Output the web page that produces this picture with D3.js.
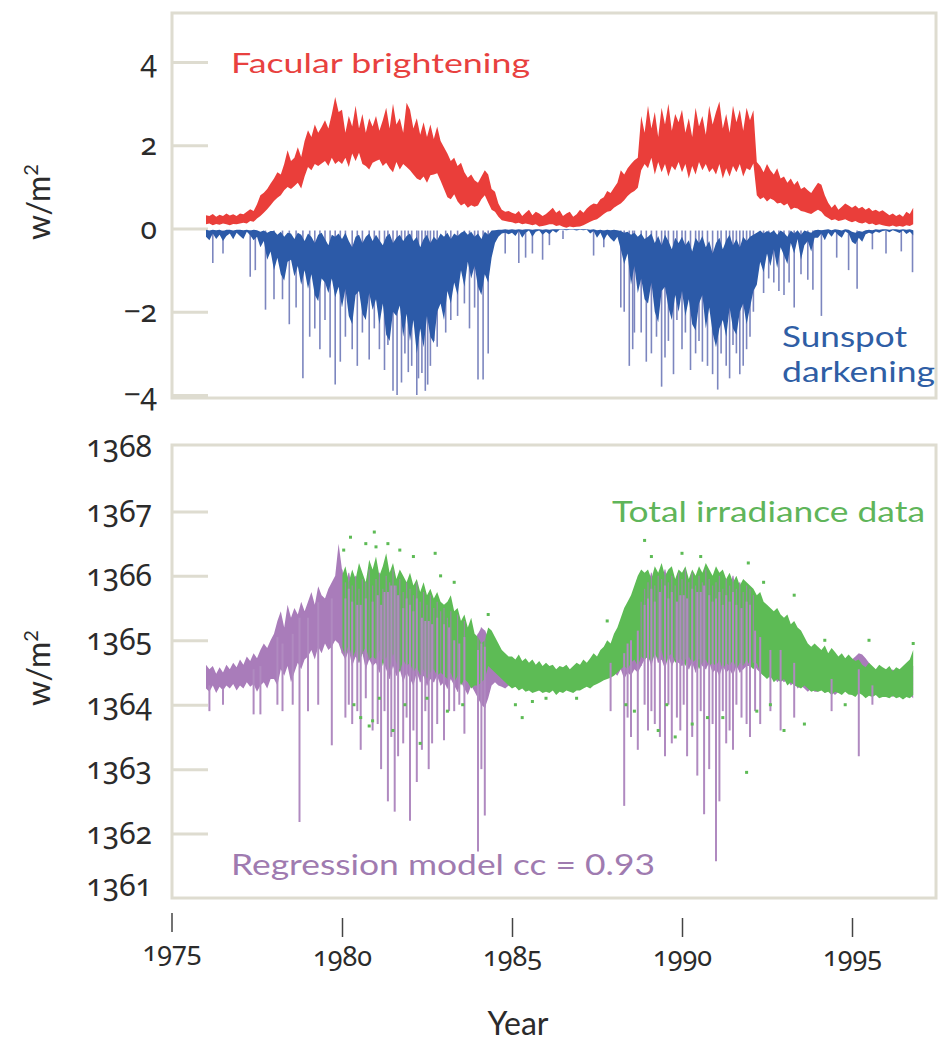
<!DOCTYPE html>
<html>
<head>
<meta charset="utf-8">
<script src="https://cdn.jsdelivr.net/npm/d3@7"></script>
<style>
  html, body { margin: 0; padding: 0; background: #fff; }
  svg { display: block; font-family: Lato, "Open Sans", sans-serif; }
  .num text { font-family: "Noto Sans", "Open Sans", sans-serif; font-variant-numeric: oldstyle-nums; font-feature-settings: "onum" 1; }
</style>
</head>
<body>
<svg id="chart" width="939" height="1044"></svg>
<script>
// ---- Top panel: facular brightening and sunspot darkening (W/m^2), sampled every 0.1 yr from 1976.0 ----
const facularHigh = [
  0.32,0.30,0.35,0.28,0.33,0.30,0.36,0.31,0.34,0.30,
  0.36,0.34,0.40,0.46,0.42,0.58,0.80,0.86,0.95,1.08,
  1.20,1.35,1.30,1.55,1.88,1.62,1.70,1.95,1.72,2.10,
  2.36,2.20,2.50,2.30,2.44,2.60,2.40,2.75,3.16,2.80,
  2.85,2.30,2.70,2.45,2.95,2.40,2.75,2.30,2.65,2.45,
  2.70,2.35,2.60,2.90,2.40,3.00,2.50,2.65,2.30,3.02,
  2.85,2.40,2.65,2.25,2.55,2.20,2.50,2.15,2.45,2.10,
  1.95,1.80,1.62,1.70,1.50,1.58,1.35,1.22,1.30,1.16,
  1.10,1.25,1.40,1.30,0.95,0.88,0.60,0.45,0.40,0.42,
  0.38,0.35,0.42,0.30,0.38,0.45,0.32,0.40,0.36,0.30,
  0.35,0.42,0.50,0.38,0.44,0.30,0.36,0.40,0.28,0.34,
  0.45,0.38,0.48,0.55,0.60,0.58,0.70,0.75,0.90,0.85,
  0.98,1.10,1.40,1.30,1.45,1.55,1.64,1.70,2.70,2.30,
  2.95,2.40,2.80,2.20,2.90,2.50,3.00,2.35,2.75,2.55,
  2.85,2.30,2.65,2.20,2.90,2.45,2.70,2.25,2.95,2.50,
  2.80,3.05,2.40,2.75,2.30,2.95,2.55,2.85,2.35,2.90,
  2.60,2.84,1.60,1.50,1.35,1.55,1.40,1.30,1.45,1.20,
  1.25,1.10,1.20,1.05,1.15,0.95,1.00,0.92,0.85,0.98,
  1.10,1.05,0.80,0.62,0.50,0.58,0.45,0.52,0.60,0.55,
  0.50,0.55,0.48,0.52,0.45,0.50,0.42,0.45,0.40,0.44,
  0.38,0.32,0.36,0.30,0.34,0.28,0.40,0.35,0.50
];
const facularLow = [
  0.10,0.12,0.08,0.11,0.09,0.12,0.10,0.08,0.11,0.10,
  0.12,0.14,0.12,0.18,0.16,0.24,0.30,0.38,0.46,0.56,
  0.66,0.74,0.80,0.92,1.00,0.95,1.02,1.10,0.96,1.25,
  1.48,1.40,1.55,1.50,1.56,1.62,1.50,1.70,1.55,1.62,
  1.55,1.70,1.48,1.80,1.62,1.82,1.55,1.50,1.42,1.58,
  1.62,1.66,1.50,1.58,1.45,1.35,1.60,1.42,1.55,1.48,
  1.40,1.30,1.20,1.16,1.25,1.10,1.28,1.30,1.33,1.15,
  0.95,0.75,0.70,0.82,0.65,0.55,0.60,0.50,0.56,0.52,
  0.55,0.70,0.80,0.62,0.45,0.40,0.28,0.20,0.18,0.16,
  0.15,0.12,0.14,0.10,0.12,0.10,0.08,0.10,0.05,0.06,
  0.08,0.10,0.10,0.06,0.08,0.04,0.02,0.05,0.03,0.04,
  0.05,0.08,0.12,0.16,0.20,0.22,0.28,0.35,0.40,0.42,
  0.50,0.55,0.60,0.68,0.78,0.85,0.90,0.98,1.40,1.55,
  1.45,1.70,1.30,1.60,1.35,1.55,1.25,1.50,1.40,1.60,
  1.35,1.55,1.20,1.50,1.30,1.60,1.40,1.55,1.35,1.45,
  1.30,1.55,1.20,1.45,1.25,1.50,1.35,1.55,1.25,1.45,
  1.40,1.56,0.80,0.70,0.75,0.65,0.72,0.68,0.60,0.62,
  0.55,0.60,0.45,0.50,0.48,0.42,0.40,0.37,0.35,0.40,
  0.45,0.40,0.30,0.25,0.20,0.22,0.18,0.20,0.22,0.18,
  0.15,0.18,0.14,0.12,0.15,0.10,0.12,0.08,0.10,0.08,
  0.06,0.05,0.07,0.04,0.06,0.04,0.08,0.06,0.10
];
// upper and lower edges of the dense sunspot-darkening band
const sunspotUpper = [
  -0.03,-0.05,-0.03,-0.04,-0.03,-0.06,-0.03,-0.03,-0.05,-0.03,
  -0.03,-0.04,-0.03,-0.05,-0.03,-0.04,-0.08,-0.05,-0.10,-0.06,
  -0.06,-0.15,-0.08,-0.20,-0.10,-0.12,-0.25,-0.10,-0.15,-0.30,
  -0.12,-0.20,-0.35,-0.15,-0.10,-0.25,-0.40,-0.15,-0.20,-0.12,
  -0.25,-0.10,-0.30,-0.45,-0.20,-0.15,-0.35,-0.20,-0.12,-0.30,
  -0.15,-0.28,-0.40,-0.20,-0.12,-0.35,-0.22,-0.15,-0.30,-0.18,
  -0.12,-0.30,-0.20,-0.45,-0.25,-0.15,-0.35,-0.20,-0.28,-0.12,
  -0.20,-0.10,-0.25,-0.12,-0.18,-0.10,-0.06,-0.15,-0.08,-0.20,
  -0.12,-0.25,-0.08,-0.15,-0.05,-0.04,-0.03,-0.03,-0.02,-0.03,
  -0.02,-0.03,-0.02,-0.03,-0.02,-0.02,-0.03,-0.02,-0.02,-0.03,
  -0.02,-0.03,-0.02,-0.02,-0.02,-0.02,-0.02,-0.02,-0.02,-0.02,
  -0.02,-0.02,-0.02,-0.03,-0.02,-0.04,-0.03,-0.05,-0.03,-0.04,
  -0.03,-0.04,-0.06,-0.10,-0.08,-0.15,-0.10,-0.20,-0.12,-0.25,
  -0.20,-0.12,-0.35,-0.18,-0.40,-0.15,-0.30,-0.50,-0.22,-0.35,
  -0.20,-0.40,-0.28,-0.55,-0.22,-0.35,-0.18,-0.45,-0.30,-0.60,
  -0.35,-0.22,-0.50,-0.28,-0.15,-0.40,-0.25,-0.45,-0.20,-0.30,
  -0.20,-0.15,-0.10,-0.05,-0.12,-0.06,-0.10,-0.05,-0.15,-0.05,
  -0.10,-0.20,-0.05,-0.12,-0.04,-0.15,-0.05,-0.08,-0.10,-0.04,
  -0.03,-0.04,-0.03,-0.02,-0.04,-0.02,-0.03,-0.05,-0.02,-0.03,
  -0.08,-0.10,-0.06,-0.08,-0.04,-0.03,-0.04,-0.02,-0.03,-0.02,
  -0.02,-0.03,-0.02,-0.02,-0.03,-0.02,-0.03,-0.02,-0.04
];
const sunspotLower = [
  -0.20,-0.28,-0.12,-0.25,-0.15,-0.30,-0.18,-0.12,-0.26,-0.10,
  -0.18,-0.25,-0.08,-0.16,-0.28,-0.20,-0.45,-0.30,-0.75,-0.55,
  -1.00,-0.70,-1.10,-1.25,-0.80,-0.75,-1.15,-0.90,-1.35,-1.00,
  -1.45,-1.10,-1.60,-1.75,-1.20,-1.30,-1.55,-1.20,-1.65,-1.40,
  -1.90,-1.45,-2.10,-2.30,-1.60,-1.50,-2.05,-2.20,-1.55,-1.95,
  -1.70,-2.30,-1.80,-2.55,-2.70,-2.00,-2.10,-1.85,-2.60,-2.05,
  -2.70,-2.20,-3.00,-2.40,-2.85,-2.10,-2.60,-2.75,-2.00,-1.80,
  -2.20,-1.50,-1.80,-1.30,-1.60,-1.00,-1.40,-0.80,-1.20,-0.90,
  -1.40,-1.60,-1.10,-1.30,-0.70,-0.35,-0.20,-0.12,-0.10,-0.14,
  -0.10,-0.18,-0.06,-0.22,-0.10,-0.05,-0.20,-0.08,-0.05,-0.15,
  -0.08,-0.14,-0.05,-0.10,-0.03,-0.03,-0.04,-0.03,-0.03,-0.05,
  -0.03,-0.04,-0.03,-0.12,-0.06,-0.22,-0.10,-0.28,-0.14,-0.24,
  -0.32,-0.20,-0.50,-0.85,-0.60,-1.35,-0.90,-1.55,-1.20,-1.70,
  -1.80,-1.30,-2.00,-2.25,-1.50,-1.40,-1.90,-2.20,-1.60,-2.00,
  -1.50,-2.10,-1.70,-2.30,-2.45,-1.80,-1.60,-2.40,-1.90,-2.50,
  -2.85,-2.40,-2.20,-2.60,-1.90,-2.40,-2.55,-2.00,-1.80,-2.30,
  -1.90,-1.50,-1.35,-0.80,-1.05,-0.60,-0.90,-0.50,-0.95,-0.45,
  -0.65,-0.85,-0.35,-0.60,-0.25,-0.75,-0.40,-0.30,-0.55,-0.22,
  -0.22,-0.12,-0.28,-0.10,-0.20,-0.08,-0.16,-0.22,-0.07,-0.12,
  -0.32,-0.38,-0.22,-0.32,-0.14,-0.10,-0.13,-0.07,-0.10,-0.06,
  -0.05,-0.09,-0.04,-0.07,-0.11,-0.05,-0.13,-0.08,-0.16
];
// individual deep sunspot events: [year, W/m^2]
const sunspotSpikes = [
  [1976.2,-0.83],[1976.5,-0.60],[1977.3,-1.16],[1977.45,-1.00],[1977.75,-1.95],[1978.0,-1.70],
  [1978.25,-1.70],[1978.45,-2.30],[1978.65,-1.90],[1978.85,-3.60],[1979.05,-2.60],[1979.2,-2.40],
  [1979.35,-2.90],[1979.5,-2.20],[1979.65,-3.10],[1979.8,-3.75],[1979.95,-3.20],[1980.1,-2.60],
  [1980.3,-2.90],[1980.45,-3.30],[1980.6,-2.50],[1980.8,-3.15],[1980.95,-2.40],[1981.1,-2.90],
  [1981.25,-3.40],[1981.35,-2.80],[1981.5,-3.90],[1981.62,-4.00],[1981.75,-3.70],[1981.85,-3.00],
  [1981.95,-3.45],[1982.05,-3.30],[1982.2,-4.00],[1982.25,-3.60],[1982.35,-3.47],[1982.45,-3.90],
  [1982.52,-3.75],[1982.6,-3.30],[1982.7,-2.70],[1982.8,-2.84],[1983.05,-2.50],[1983.2,-2.20],
  [1983.4,-2.10],[1983.6,-1.80],[1983.75,-2.40],[1983.9,-1.90],[1984.0,-3.63],[1984.15,-3.63],
  [1984.3,-3.00],[1984.8,-0.60],[1985.2,-0.83],[1985.4,-0.70],[1985.6,-0.60],[1985.9,-0.75],
  [1986.1,-0.40],[1986.5,-0.25],[1987.4,-0.65],[1987.7,-0.45],[1988.2,-1.90],[1988.3,-2.00],
  [1988.45,-3.30],[1988.55,-2.90],[1988.6,-2.50],[1988.8,-2.50],[1988.95,-3.20],[1989.1,-3.00],
  [1989.25,-2.60],[1989.4,-3.80],[1989.5,-3.10],[1989.6,-2.70],[1989.75,-3.50],[1989.85,-2.20],
  [1990.0,-2.90],[1990.1,-2.50],[1990.25,-3.40],[1990.4,-3.00],[1990.5,-2.70],[1990.6,-3.20],
  [1990.75,-3.30],[1990.9,-3.50],[1991.05,-3.87],[1991.15,-3.00],[1991.3,-3.30],[1991.4,-3.60],
  [1991.5,-2.80],[1991.6,-3.00],[1991.7,-3.50],[1991.8,-3.30],[1991.9,-2.90],[1992.0,-2.60],
  [1992.1,-2.00],[1992.4,-1.55],[1992.55,-1.20],[1992.7,-1.30],[1992.85,-1.50],[1993.0,-1.60],
  [1993.15,-1.30],[1993.3,-1.90],[1993.5,-1.10],[1993.7,-1.23],[1993.85,-1.47],[1994.1,-2.10],
  [1994.55,-0.70],[1994.9,-1.00],[1995.15,-1.45],[1995.6,-0.50],[1996.0,-0.60],[1996.45,-0.55],
  [1996.78,-1.05]
];

// ---- Bottom panel: total irradiance (W/m^2) ----
// regression model, sampled every 0.1 yr from 1976.0
const modelHigh = [
  1364.62,1364.55,1364.60,1364.48,1364.58,1364.50,1364.62,1364.55,1364.65,1364.58,
  1364.70,1364.62,1364.75,1364.68,1364.80,1364.72,1364.85,1364.95,1364.88,1365.00,
  1365.10,1365.30,1365.45,1365.20,1365.55,1365.35,1365.50,1365.40,1365.60,1365.45,
  1365.60,1365.75,1365.55,1365.84,1365.70,1365.65,1365.80,1365.90,1366.00,1366.50,
  1366.10,1365.90,1366.05,1365.85,1366.00,1365.80,1365.95,1365.90,1366.10,1365.85,
  1365.95,1366.05,1365.80,1366.00,1365.90,1366.10,1365.85,1365.95,1365.75,1365.90,
  1365.80,1365.70,1365.90,1365.60,1365.75,1365.55,1365.70,1365.50,1365.60,1365.45,
  1365.50,1365.35,1365.45,1365.25,1365.40,1365.20,1365.30,1365.10,1365.20,1365.00,
  1365.10,1365.20,1365.15,1365.05,1364.90,1364.85,1364.80,1364.75,1364.70,1364.72,
  1364.65,1364.60,1364.58,1364.55,1364.60,1364.52,1364.55,1364.50,1364.55,1364.52,
  1364.50,1364.55,1364.52,1364.48,1364.55,1364.50,1364.52,1364.48,1364.55,1364.50,
  1364.55,1364.60,1364.58,1364.65,1364.70,1364.68,1364.75,1364.80,1364.85,1364.90,
  1364.95,1365.00,1365.10,1365.05,1365.20,1365.25,1365.30,1365.40,1365.60,1365.80,
  1365.90,1366.05,1365.85,1366.00,1365.95,1366.10,1365.90,1366.00,1365.85,1366.05,
  1365.95,1366.10,1365.90,1366.05,1365.85,1366.00,1365.90,1366.10,1365.95,1365.85,
  1365.90,1366.00,1365.80,1365.95,1365.85,1366.00,1365.80,1365.90,1365.75,1365.85,
  1365.80,1365.70,1365.40,1365.30,1365.20,1365.25,1365.10,1365.15,1365.05,1365.10,
  1365.00,1365.05,1364.95,1364.90,1364.85,1364.95,1364.80,1364.85,1364.75,1364.80,
  1364.75,1364.80,1364.70,1364.72,1364.65,1364.70,1364.62,1364.68,1364.60,1364.70,
  1364.70,1364.75,1364.80,1364.78,1364.72,1364.65,1364.55,1364.50,1364.55,1364.50,
  1364.52,1364.48,1364.55,1364.50,1364.45,1364.52,1364.48,1364.55,1364.60
];
const modelLow = [
  1364.25,1364.20,1364.30,1364.18,1364.28,1364.22,1364.30,1364.25,1364.32,1364.22,
  1364.30,1364.25,1364.35,1364.28,1364.32,1364.20,1364.30,1364.35,1364.25,1364.40,
  1364.40,1364.30,1364.55,1364.45,1364.60,1364.35,1364.50,1364.65,1364.55,1364.70,
  1364.75,1364.85,1364.70,1364.90,1364.80,1364.95,1364.85,1364.90,1365.00,1364.95,
  1364.80,1364.70,1364.85,1364.60,1364.75,1364.65,1364.80,1364.55,1364.70,1364.60,
  1364.65,1364.50,1364.70,1364.55,1364.40,1364.60,1364.45,1364.55,1364.35,1364.50,
  1364.40,1364.30,1364.50,1364.35,1364.45,1364.30,1364.40,1364.35,1364.45,1364.30,
  1364.35,1364.25,1364.40,1364.30,1364.20,1364.35,1364.25,1364.15,1364.30,1364.20,
  1364.10,1364.00,1363.95,1364.10,1364.30,1364.35,1364.30,1364.28,1364.25,1364.30,
  1364.30,1364.28,1364.25,1364.30,1364.22,1364.25,1364.20,1364.25,1364.22,1364.20,
  1364.22,1364.20,1364.25,1364.18,1364.22,1364.20,1364.25,1364.22,1364.20,1364.24,
  1364.25,1364.28,1364.30,1364.32,1364.35,1364.38,1364.40,1364.42,1364.45,1364.48,
  1364.50,1364.45,1364.55,1364.40,1364.50,1364.45,1364.55,1364.50,1364.60,1364.70,
  1364.75,1364.60,1364.80,1364.65,1364.70,1364.55,1364.75,1364.60,1364.70,1364.65,
  1364.60,1364.70,1364.55,1364.65,1364.50,1364.70,1364.60,1364.55,1364.65,1364.50,
  1364.55,1364.45,1364.60,1364.50,1364.55,1364.45,1364.60,1364.50,1364.55,1364.60,
  1364.60,1364.65,1364.55,1364.50,1364.45,1364.50,1364.40,1364.45,1364.35,1364.40,
  1364.35,1364.40,1364.30,1364.35,1364.25,1364.30,1364.25,1364.20,1364.25,1364.20,
  1364.20,1364.25,1364.18,1364.22,1364.20,1364.15,1364.20,1364.18,1364.22,1364.20,
  1364.25,1364.30,1364.40,1364.35,1364.30,1364.25,1364.20,1364.15,1364.20,1364.18,
  1364.15,1364.18,1364.12,1364.16,1364.14,1364.18,1364.12,1364.15,1364.10
];
// model dips caused by large sunspot groups: [year, W/m^2]
const modelSpikes = [
  [1976.1,1363.90],[1976.5,1364.00],[1977.4,1363.85],[1977.6,1363.85],[1978.1,1364.00],[1978.25,1363.90],
  [1978.55,1364.00],[1978.75,1362.18],[1979.0,1363.90],[1979.3,1364.00],[1979.7,1363.37],[1980.1,1363.80],
  [1980.2,1364.00],[1980.3,1363.70],[1980.45,1363.90],[1980.55,1363.30],[1980.7,1364.10],[1980.9,1363.60],
  [1981.05,1363.70],[1981.15,1363.00],[1981.25,1363.90],[1981.35,1362.50],[1981.45,1363.50],[1981.55,1362.34],
  [1981.65,1363.20],[1981.8,1363.40],[1981.9,1363.80],[1982.0,1362.20],[1982.1,1363.60],[1982.2,1362.80],
  [1982.35,1363.30],[1982.45,1363.90],[1982.55,1363.00],[1982.65,1363.40],[1982.8,1363.70],[1983.0,1363.45],
  [1983.15,1363.90],[1983.3,1363.90],[1983.45,1364.00],[1983.6,1363.55],[1984.0,1361.72],[1984.1,1363.00],
  [1984.2,1362.28],[1987.9,1363.90],[1988.3,1362.43],[1988.4,1363.80],[1988.5,1363.50],[1988.7,1363.30],
  [1988.9,1364.00],[1989.0,1363.60],[1989.1,1363.90],[1989.2,1363.70],[1989.35,1363.50],[1989.5,1363.20],
  [1989.6,1364.00],[1989.7,1363.40],[1989.85,1363.80],[1989.95,1363.60],[1990.05,1364.00],[1990.15,1363.20],
  [1990.3,1363.50],[1990.45,1362.90],[1990.55,1363.90],[1990.65,1362.30],[1990.8,1363.00],[1990.9,1363.70],
  [1991.0,1361.57],[1991.1,1362.50],[1991.2,1363.90],[1991.3,1363.40],[1991.4,1363.60],[1991.5,1363.30],
  [1991.6,1364.00],[1991.75,1363.80],[1991.9,1363.70],[1992.0,1363.50],[1992.15,1363.90],[1992.3,1363.70],
  [1992.6,1363.90],[1992.9,1363.60],[1993.3,1363.80],[1994.4,1363.90],[1995.2,1363.20],[1995.6,1364.00]
];
// measured total irradiance, sampled every 0.1 yr from 1980.0
const tsiHigh = [
  1366.00,1366.15,1365.90,1366.10,1365.95,1366.20,1366.05,1365.90,1366.25,1366.10,
  1366.30,1366.00,1366.15,1366.35,1366.05,1366.20,1365.95,1366.10,1366.00,1365.90,
  1366.05,1365.85,1365.95,1365.75,1365.90,1365.70,1365.80,1365.65,1365.75,1365.60,
  1365.55,1365.60,1365.70,1365.45,1365.50,1365.30,1365.40,1365.20,1365.35,1365.10,
  1365.05,1364.95,1365.00,1365.20,1365.15,1365.05,1364.95,1364.85,1364.80,1364.75,
  1364.75,1364.70,1364.78,1364.68,1364.72,1364.65,1364.70,1364.62,1364.68,1364.60,
  1364.65,1364.60,1364.62,1364.55,1364.60,1364.58,1364.62,1364.55,1364.60,1364.65,
  1364.62,1364.70,1364.65,1364.72,1364.80,1364.75,1364.85,1364.90,1365.00,1364.95,
  1365.10,1365.20,1365.35,1365.50,1365.60,1365.70,1365.85,1366.00,1366.10,1366.05,
  1366.10,1365.95,1366.15,1366.05,1366.20,1366.00,1366.10,1366.15,1365.95,1366.10,
  1366.05,1366.15,1365.95,1366.10,1366.00,1366.15,1366.05,1366.20,1366.10,1366.00,
  1366.15,1366.05,1366.10,1365.95,1366.05,1365.90,1366.00,1365.85,1365.95,1365.90,
  1365.85,1365.80,1365.70,1365.75,1365.60,1365.55,1365.50,1365.45,1365.50,1365.40,
  1365.35,1365.40,1365.25,1365.30,1365.20,1365.15,1365.05,1364.95,1364.90,1364.95,
  1364.90,1364.85,1364.92,1364.80,1364.88,1364.82,1364.75,1364.80,1364.72,1364.78,
  1364.72,1364.68,1364.70,1364.62,1364.58,1364.65,1364.60,1364.55,1364.62,1364.58,
  1364.55,1364.60,1364.52,1364.58,1364.55,1364.60,1364.65,1364.70,1364.85
];
const tsiLow = [
  1364.90,1364.75,1364.95,1364.70,1364.85,1364.65,1364.80,1364.90,1364.70,1364.75,
  1364.70,1364.85,1364.60,1364.75,1364.55,1364.80,1364.65,1364.50,1364.70,1364.60,
  1364.65,1364.50,1364.60,1364.45,1364.55,1364.40,1364.50,1364.55,1364.45,1364.50,
  1364.45,1364.40,1364.50,1364.35,1364.45,1364.30,1364.40,1364.35,1364.25,1364.30,
  1364.30,1364.35,1364.40,1364.60,1364.55,1364.50,1364.45,1364.40,1364.35,1364.30,
  1364.25,1364.28,1364.22,1364.25,1364.20,1364.22,1364.18,1364.20,1364.22,1364.18,
  1364.20,1364.18,1364.22,1364.15,1364.20,1364.18,1364.22,1364.20,1364.18,1364.22,
  1364.22,1364.25,1364.28,1364.25,1364.30,1364.32,1364.35,1364.38,1364.40,1364.42,
  1364.45,1364.50,1364.55,1364.60,1364.55,1364.65,1364.70,1364.60,1364.75,1364.70,
  1364.75,1364.65,1364.80,1364.70,1364.85,1364.60,1364.75,1364.80,1364.65,1364.70,
  1364.70,1364.60,1364.75,1364.65,1364.70,1364.55,1364.65,1364.70,1364.60,1364.65,
  1364.60,1364.70,1364.55,1364.65,1364.60,1364.70,1364.55,1364.65,1364.60,1364.70,
  1364.60,1364.55,1364.65,1364.50,1364.45,1364.40,1364.45,1364.35,1364.40,1364.35,
  1364.40,1364.30,1364.35,1364.30,1364.28,1364.25,1364.30,1364.25,1364.20,1364.22,
  1364.20,1364.22,1364.18,1364.20,1364.15,1364.20,1364.18,1364.15,1364.20,1364.16,
  1364.15,1364.12,1364.18,1364.15,1364.10,1364.14,1364.12,1364.15,1364.10,1364.12,
  1364.12,1364.10,1364.14,1364.10,1364.12,1364.08,1364.12,1364.10,1364.15
];
// isolated measurements away from the main band: [year, W/m^2]
const tsiOutliers = [
  [1980.05,1366.40],[1980.25,1366.60],[1980.35,1364.00],[1980.55,1363.80],[1980.7,1366.50],[1980.8,1363.67],
  [1980.9,1363.75],[1980.95,1366.68],[1981.0,1366.45],[1981.1,1364.10],[1981.35,1366.50],[1981.5,1363.60],
  [1981.7,1366.40],[1981.85,1364.00],[1982.1,1366.30],[1982.3,1363.40],[1982.5,1364.10],[1982.74,1366.35],
  [1982.9,1366.00],[1983.1,1363.90],[1983.3,1365.90],[1983.55,1364.00],[1984.3,1365.40],[1985.1,1364.00],
  [1985.3,1363.80],[1985.6,1364.05],[1986.0,1364.10],[1986.9,1364.10],[1987.8,1365.30],[1988.35,1364.00],
  [1988.6,1363.90],[1988.9,1366.55],[1989.1,1366.30],[1989.3,1363.60],[1989.55,1364.00],[1989.8,1363.50],
  [1990.0,1366.35],[1990.3,1363.70],[1990.55,1366.30],[1990.75,1363.80],[1991.2,1363.80],[1991.9,1362.95],
  [1991.95,1366.20],[1992.2,1363.90],[1992.4,1365.90],[1992.6,1364.00],[1993.0,1363.60],[1993.3,1365.70],
  [1993.6,1363.70],[1994.2,1365.00],[1994.8,1364.00],[1995.5,1365.00],[1996.8,1364.95]
];

// ---- Axis ticks ----
const topTicks = [-4, -2, 0, 2, 4];
const bottomTicks = [1361, 1362, 1363, 1364, 1365, 1366, 1367, 1368];
const yearTicks = [1975, 1980, 1985, 1990, 1995];

// sample years for the evenly spaced series
const modelYears = facularHigh.map((_, i) => 1976 + i / 10);
const tsiYears = tsiHigh.map((_, i) => 1980 + i / 10);

const colors = {
  red: "#ea3e3a", blue: "#2c5aa8", blueSpike: "#7c86bf",
  purple: "#a97cba", purpleSpike: "#b08ac0", green: "#5dbb55",
  frame: "#dedcd0", text: "#2b2b2b"
};

const svg = d3.select("#chart");
const x = d3.scaleLinear().domain([1975, 1997]).range([172, 920]);
const yTop = d3.scaleLinear().domain([-4, 4]).range([395, 62]);
const yBot = d3.scaleLinear().domain([1361, 1368]).range([898, 447]);

// panel frames
function frame(y0, y1) {
  svg.append("rect")
    .attr("x", 172).attr("y", y0).attr("width", 764).attr("height", y1 - y0)
    .attr("fill", "none").attr("stroke", colors.frame).attr("stroke-width", 3);
}
frame(13, 398);
frame(445, 898);

// y axes: short inward ticks, old-style numerals
function yAxis(scale, ticks, pad, fmt) {
  const g = svg.append("g").attr("class", "num")
    .attr("transform", "translate(172,0)")
    .call(d3.axisLeft(scale).tickValues(ticks).tickSize(-36).tickPadding(pad).tickFormat(fmt));
  g.attr("font-size", 30);
  g.select(".domain").remove();
  g.selectAll(".tick line").attr("stroke", colors.frame).attr("stroke-width", 3);
  g.selectAll(".tick text").attr("fill", colors.text);
  return g;
}
yAxis(yTop, topTicks, 15, d => d < 0 ? "\u2212" + Math.abs(d) : String(d));
const gb = yAxis(yBot, bottomTicks, 20, d3.format("d"));
gb.selectAll(".tick").filter(d => d === 1361 || d === 1368).select("line").remove();
gb.selectAll(".tick").filter(d => d === 1361)
  .attr("transform", `translate(0,${yBot(1361) - 12})`);

// x axis below the lower panel
const gx = svg.append("g").attr("class", "num")
  .attr("transform", "translate(0,918)")
  .call(d3.axisBottom(x).tickValues(yearTicks).tickSize(19).tickPadding(10).tickFormat(d3.format("d")));
gx.attr("font-size", 27);
gx.select(".domain").remove();
gx.selectAll(".tick line").attr("stroke", "#444").attr("stroke-width", 1.5);
gx.selectAll(".tick text").attr("fill", colors.text);
gx.selectAll(".tick").filter(d => d === 1975)
  .attr("transform", `translate(${x(1975)},-5)`);

// ---- top panel marks ----
const gTop = svg.append("g");
gTop.append("path")
  .datum(modelYears)
  .attr("fill", colors.red)
  .attr("d", d3.area()
    .x(d => x(d))
    .y0((d, i) => yTop(facularLow[i]))
    .y1((d, i) => yTop(facularHigh[i])));

gTop.selectAll("line.spot")
  .data(sunspotSpikes)
  .join("line")
  .attr("class", "spot")
  .attr("x1", d => x(d[0])).attr("x2", d => x(d[0]))
  .attr("y1", yTop(-0.05)).attr("y2", d => yTop(d[1]))
  .attr("stroke", colors.blueSpike).attr("stroke-width", 1.6);

gTop.append("path")
  .datum(modelYears)
  .attr("fill", colors.blue)
  .attr("d", d3.area()
    .x(d => x(d))
    .y0((d, i) => yTop(sunspotUpper[i]))
    .y1((d, i) => yTop(sunspotLower[i])));

// ---- bottom panel marks ----
const gBot = svg.append("g");
gBot.append("path")
  .datum(modelYears)
  .attr("fill", colors.purple)
  .attr("d", d3.area()
    .x(d => x(d))
    .y0((d, i) => yBot(modelLow[i]))
    .y1((d, i) => yBot(modelHigh[i])));

gBot.append("path")
  .datum(tsiYears)
  .attr("fill", colors.green)
  .attr("d", d3.area()
    .x(d => x(d))
    .y0((d, i) => yBot(tsiLow[i]))
    .y1((d, i) => yBot(tsiHigh[i])));

// during active years the model scatter shows through the measurements
const activeModel = modelYears
  .map((yr, i) => ({ yr, lo: modelLow[i], hi: modelHigh[i] }))
  .filter(d => d.yr >= 1980 && d.hi - d.lo >= 1.0);
gBot.selectAll("line.mix")
  .data(activeModel)
  .join("line")
  .attr("class", "mix")
  .attr("x1", d => x(d.yr)).attr("x2", d => x(d.yr))
  .attr("y1", d => yBot(d.lo)).attr("y2", d => yBot(d.hi))
  .attr("stroke", colors.purple).attr("stroke-width", 1.3).attr("stroke-opacity", 0.7);

const bandTop = yr => modelHigh[Math.max(0, Math.min(modelHigh.length - 1, Math.round((yr - 1976) * 10)))];
gBot.selectAll("line.dip")
  .data(modelSpikes)
  .join("line")
  .attr("class", "dip")
  .attr("x1", d => x(d[0])).attr("x2", d => x(d[0]))
  .attr("y1", d => yBot(bandTop(d[0]) - 0.25)).attr("y2", d => yBot(d[1]))
  .attr("stroke", colors.purpleSpike).attr("stroke-width", 2);

gBot.selectAll("rect.obs")
  .data(tsiOutliers)
  .join("rect")
  .attr("class", "obs")
  .attr("x", d => x(d[0]) - 1.5).attr("y", d => yBot(d[1]) - 1.5)
  .attr("width", 3).attr("height", 3)
  .attr("fill", colors.green);

// ---- labels ----
function label(txt, px, py, size, fill, len) {
  const t = svg.append("text").attr("x", px).attr("y", py)
    .attr("font-size", size).attr("fill", fill).text(txt);
  if (len) t.attr("textLength", len).attr("lengthAdjust", "spacingAndGlyphs");
  return t;
}
label("Facular brightening", 231, 73, 27, "#e8413f", 299);
label("Sunspot", 782, 347, 29, "#2f5ea5", 125);
label("darkening", 782, 382, 29, "#2f5ea5", 153);
label("Total irradiance data", 612, 522, 28, "#5fb55a", 313);
label("Regression model cc = 0.93", 231, 875, 28, "#9f7bb0", 424);

// y-axis titles
function yTitle(cy) {
  const t = svg.append("text")
    .attr("transform", `translate(50,${cy}) rotate(-90)`)
    .attr("text-anchor", "middle").attr("font-size", 32).attr("fill", colors.text);
  t.append("tspan").text("w/m");
  t.append("tspan").attr("baseline-shift", "super").attr("font-size", 20).text("2");
}
yTitle(202);
yTitle(668);

svg.append("text").attr("x", 518).attr("y", 1035).attr("text-anchor", "middle")
  .attr("font-size", 32).attr("fill", colors.text).text("Year");
</script>
</body>
</html>
